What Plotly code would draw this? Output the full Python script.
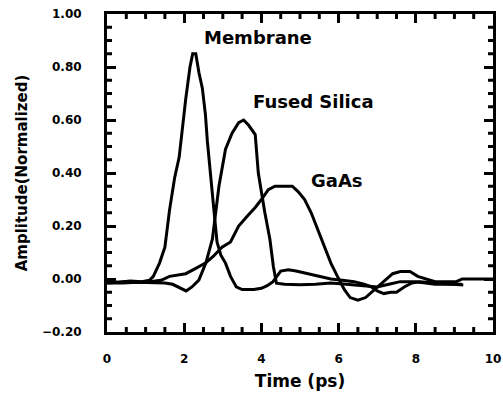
import plotly.graph_objects as go

# Membrane
mem_x = [0, 0.3, 0.6, 0.9, 1.1, 1.2, 1.36, 1.5, 1.62, 1.75, 1.87, 1.96, 2.04, 2.15, 2.22, 2.3,
         2.38, 2.47, 2.55, 2.6, 2.66, 2.77, 2.85, 2.95, 3.07, 3.2, 3.35, 3.5, 3.8, 4.0, 4.15, 4.3,
         4.5, 4.7, 4.9, 5.2, 5.5, 5.8, 6.1, 6.4, 6.66, 6.85, 7.0, 7.17, 7.35, 7.5, 7.7, 7.9, 8.1,
         8.5, 8.9, 9.23]
mem_y = [-0.01, -0.012, -0.008, -0.01, -0.005, 0.01, 0.06, 0.12, 0.26, 0.38, 0.46, 0.59, 0.68,
         0.80, 0.85, 0.85, 0.78, 0.72, 0.62, 0.52, 0.42, 0.26, 0.14, 0.09, 0.06, 0.01, -0.03,
         -0.04, -0.04, -0.035, -0.025, -0.01, 0.03, 0.035, 0.03, 0.02, 0.01, 0.0, -0.005, -0.01,
         -0.02, -0.03, -0.045, -0.055, -0.05, -0.05, -0.03, -0.015, -0.01, -0.015, -0.02, -0.023]

# Fused Silica
fs_x = [0, 0.4, 0.8, 1.2, 1.5, 1.7, 1.9, 2.05, 2.2, 2.38, 2.56, 2.73, 2.9, 3.07, 3.24, 3.41,
        3.54, 3.67, 3.84, 3.92, 4.09, 4.22, 4.31, 4.39, 4.6, 5.0, 5.4, 5.8, 6.2, 6.6, 7.0, 7.3,
        7.6, 8.0, 8.5, 9.0, 9.2]
fs_y = [-0.015, -0.015, -0.012, -0.015, -0.015, -0.02, -0.035, -0.045, -0.03, -0.004, 0.06,
        0.15, 0.35, 0.49, 0.55, 0.59, 0.60, 0.58, 0.545, 0.40, 0.25, 0.15, 0.047, -0.016,
        -0.02, -0.022, -0.02, -0.015, -0.02, -0.025, -0.03, -0.02, -0.01, -0.01, -0.02, -0.02,
        -0.02]

# GaAs
ga_x = [0, 0.5, 1.0, 1.4, 1.62, 1.8, 2.04, 2.3, 2.55, 2.75, 2.98, 3.2, 3.41, 3.62, 3.84, 4.0,
        4.18, 4.35, 4.6, 4.8, 4.95, 5.12, 5.29, 5.46, 5.63, 5.8, 5.97, 6.15, 6.3, 6.5, 6.7,
        6.85, 7.1, 7.4, 7.6, 7.85, 8.05, 8.25, 8.5, 8.8, 9.05, 9.2, 9.6, 10.0]
ga_y = [-0.015, -0.01, -0.012, -0.005, 0.01, 0.015, 0.02, 0.04, 0.06, 0.085, 0.12, 0.14, 0.2,
        0.235, 0.27, 0.30, 0.337, 0.35, 0.35, 0.35, 0.33, 0.30, 0.25, 0.185, 0.12, 0.06, 0.01,
        -0.04, -0.07, -0.08, -0.07, -0.05, -0.02, 0.02, 0.028, 0.028, 0.01, 0.0, -0.01, -0.01,
        -0.01, 0.0, 0.0, 0.0]

labels = ["Membrane", "Fused Silica", "GaAs"]
label_x = [3.91, 5.36, 5.96]
label_y = [0.913, 0.668, 0.37]

x_major = [0, 2, 4, 6, 8, 10]
x_minor = [0.5, 1, 1.5, 2.5, 3, 3.5, 4.5, 5, 5.5, 6.5, 7, 7.5, 8.5, 9, 9.5]
y_major = [-0.2, 0.0, 0.2, 0.4, 0.6, 0.8, 1.0]
y_minor = [-0.15, -0.1, -0.05, 0.05, 0.1, 0.15, 0.25, 0.3, 0.35, 0.45, 0.5, 0.55,
           0.65, 0.7, 0.75, 0.85, 0.9, 0.95]

FONT = "DejaVu Sans"
MIN = 5

fig = go.Figure()
for xs, ys in [(mem_x, mem_y), (fs_x, fs_y), (ga_x, ga_y)]:
    fig.add_trace(go.Scatter(x=xs, y=ys, mode="lines",
                             line=dict(color="black", width=3), showlegend=False))

for t, lx, ly in zip(labels, label_x, label_y):
    fig.add_annotation(x=lx, y=ly, text=t, showarrow=False,
                       font=dict(family=FONT, size=18, color="black", weight="bold"))

# inward minor tick marks on all four sides, positioned through the axes
tick_line = dict(color="black", width=3)
for v in x_minor:
    fig.add_shape(type="line", xref="x", yref="paper", x0=v, x1=v,
                  ysizemode="pixel", yanchor=0, y0=0, y1=MIN, line=tick_line)
    fig.add_shape(type="line", xref="x", yref="paper", x0=v, x1=v,
                  ysizemode="pixel", yanchor=1, y0=0, y1=-MIN, line=tick_line)
for v in y_minor:
    fig.add_shape(type="line", yref="y", xref="paper", y0=v, y1=v,
                  xsizemode="pixel", xanchor=0, x0=0, x1=MIN, line=tick_line)
    fig.add_shape(type="line", yref="y", xref="paper", y0=v, y1=v,
                  xsizemode="pixel", xanchor=1, x0=0, x1=-MIN, line=tick_line)

fig.update_layout(
    template="none",
    width=503, height=394,
    margin=dict(l=107, r=10, t=14, b=62),
    paper_bgcolor="white", plot_bgcolor="white",
    font=dict(family=FONT, color="black"),
)
fig.update_xaxes(
    range=[0, 10], tickmode="array", tickvals=x_major, tickformat="d",
    ticks="inside", ticklen=9, tickwidth=3, tickcolor="black",
    showline=True, linecolor="black", linewidth=3, mirror="ticks",
    showgrid=False, zeroline=False, automargin=False,
    ticklabeloverflow="allow", ticklabelstandoff=14,
    tickfont=dict(family=FONT, size=12, weight="bold", color="black"),
    title=dict(text="Time (ps)", font=dict(family=FONT, size=17, weight="bold", color="black"),
               standoff=10),
)
fig.update_yaxes(
    range=[-0.2, 1.0], tickmode="array", tickvals=y_major, tickformat=".2f",
    ticks="inside", ticklen=9, tickwidth=3, tickcolor="black",
    showline=True, linecolor="black", linewidth=3, mirror="ticks",
    showgrid=False, zeroline=False, automargin=False,
    ticklabeloverflow="allow", ticklabelstandoff=20,
    tickfont=dict(family=FONT, size=12, weight="bold", color="black"),
    title=dict(text="Amplitude(Normalized)",
               font=dict(family=FONT, size=15, weight="bold", color="black"), standoff=11),
)

fig.write_html("out.html", config={"displayModeBar": False},
               post_script="document.body.style.margin='0';document.body.style.overflow='hidden';")
